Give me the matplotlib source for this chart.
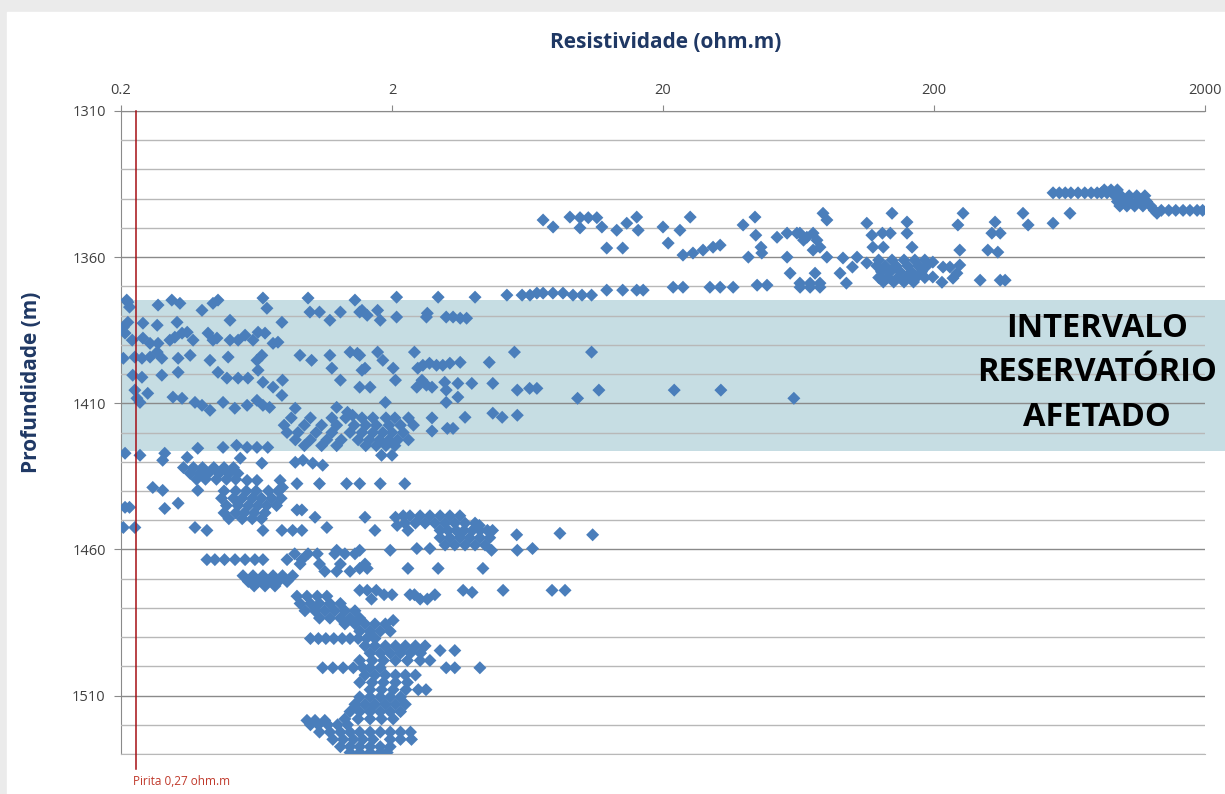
import matplotlib
matplotlib.use("Agg")
import matplotlib.pyplot as plt
from matplotlib.patches import Rectangle
from matplotlib.transforms import blended_transform_factory
from matplotlib.ticker import NullLocator

plt.rcParams['font.family'] = ['Open Sans', 'DejaVu Sans']

# resistivity readings (ohm.m) grouped by depth (m)
shallow_rows = [
    (1337.0, [850, 900, 950]),
    (1338.0, [550, 580, 610, 640, 680, 720, 760, 800, 830, 870]),
    (1339.0, [930, 980, 1050, 1120, 1200]),
    (1341.0, [950, 1000, 1060, 1140, 1220]),
    (1342.5, [970, 1030, 1100, 1180, 1260]),
    (1344.0, [1300, 1380, 1470, 1560, 1660, 1760, 1870, 1960]),
    (1345.0, [77.9, 140, 256, 426, 635, 1330]),
    (1346.3, [9.07, 16.0, 25.2, 43.7]),
    (1346.5, [9.88, 10.6, 11.4]),
    (1347.3, [7.22, 80.5]),
    (1348.0, [159, 336]),
    (1348.4, [14.7, 113, 550]),
    (1349.0, [39.5, 245, 445]),
    (1349.7, [7.86, 11.9, 20]),
    (1350.0, [9.88]),
    (1350.8, [13.5, 16.2, 23.1]),
    (1351.8, [57.4, 62.4, 64, 71.6, 129, 138, 159, 327, 351]),
    (1352.5, [44, 118]),
    (1353.2, [52.7, 67.9]),
    (1354.2, [66, 74]),
    (1355.2, [20.9]),
    (1355.9, [32.5]),
    (1356.6, [30.6, 46, 75.9, 119, 130, 166]),
    (1356.9, [12.4, 14.2]),
    (1357.6, [28.1, 71.6, 249, 316]),
    (1358.3, [344]),
    (1358.6, [25.8, 46.3]),
    (1359.3, [23.7]),
    (1360.0, [41.3, 57.4, 80.5, 104]),
    (1360.3, [92.3]),
    (1361.0, [125, 140, 155, 170, 185]),
    (1361.7, [198]),
    (1362.0, [113]),
    (1362.7, [249]),
    (1363.0, [123, 132, 145, 160, 175, 188]),
    (1363.4, [100, 216, 229]),
    (1365.0, [128, 138, 150, 165, 180]),
    (1365.5, [58.9, 72.8, 90, 243]),
    (1366.8, [198]),
    (1367.0, [125, 135, 147, 158, 172, 185]),
    (1367.2, [235]),
    (1367.9, [296, 351, 366]),
    (1368.5, [130, 142, 155, 168]),
    (1368.6, [214]),
    (1368.9, [64, 69.8, 75.9, 95]),
    (1369.6, [44.5, 48.4]),
    (1370.3, [21.8, 23.7, 29.8, 32.5, 36.3, 64.1, 69.8, 75.9]),
    (1371.3, [12.4, 14.2, 16.0, 16.9]),
    (1372.3, [6.85, 7.22, 7.85, 8.55]),
    (1373.0, [5.31, 6.04, 6.46, 9.31, 10.05, 10.9]),
    (1373.7, [2.08, 2.96, 4.05]),
]

reservoir_rows = [
    (1374.0, [0.668, 0.98]),
    (1374.7, [0.21, 0.308, 0.456, 1.46]),
    (1375.4, [0.212]),
    (1375.8, [0.33, 0.437]),
    (1376.4, [0.274]),
    (1377.1, [0.215]),
    (1377.5, [0.691]),
    (1378.2, [0.398, 1.55, 1.77]),
    (1378.8, [0.996, 1.08, 1.29, 1.52]),
    (1379.2, [2.70]),
    (1379.9, [1.62]),
    (1380.5, [2.08, 2.68, 3.17, 3.36]),
    (1380.9, [3.57, 3.77]),
    (1381.6, [0.505, 1.18, 1.81]),
    (1382.3, [0.212, 0.322, 0.785]),
    (1382.6, [0.241]),
    (1383.3, [0.272]),
    (1384.0, [0.204]),
    (1385.7, [0.351, 0.641]),
    (1386.0, [0.207, 0.336, 0.419, 0.68]),
    (1386.7, [0.574]),
    (1387.4, [0.316]),
    (1387.7, [0.241, 0.452]),
    (1388.4, [0.22, 0.303, 0.369, 0.437, 0.505, 0.541, 0.614]),
    (1389.1, [0.759]),
    (1389.5, [0.256, 0.274, 0.728]),
    (1392.5, [0.272, 1.40, 1.77, 2.42, 5.66, 10.9]),
    (1392.9, [1.49]),
    (1393.6, [0.36, 0.662, 0.915, 1.18, 1.52]),
    (1394.2, [0.225, 0.256, 0.497]),
    (1394.6, [0.204, 0.239, 0.283, 0.325]),
    (1395.3, [0.426, 0.635, 1.01, 1.85]),
    (1396.0, [3.57, 4.57]),
    (1396.3, [2.75, 3.27]),
    (1397.0, [2.60, 2.92, 3.08]),
    (1398.0, [1.2, 1.59, 2.02, 2.49]),
    (1398.7, [0.641, 1.55]),
    (1399.4, [0.325, 0.456]),
    (1400.4, [0.221, 0.283]),
    (1401.1, [0.239]),
    (1401.4, [0.492, 0.541, 0.588]),
    (1402.1, [0.789, 1.29, 2.06, 2.58]),
    (1402.8, [0.668, 3.13]),
    (1403.2, [3.50, 3.94, 4.71]),
    (1403.8, [2.68]),
    (1404.5, [0.728, 1.52, 1.66, 2.47, 2.81]),
    (1404.9, [6.44, 6.85]),
    (1405.5, [0.225, 3.17, 5.80, 11.6, 22.0, 32.7]),
    (1406.6, [0.251]),
    (1407.3, [0.785]),
    (1407.9, [0.311, 3.50]),
    (1408.3, [0.229, 0.336, 9.68, 60.8]),
    (1409.0, [0.635]),
    (1409.7, [0.235, 0.375, 0.476, 1.89, 3.17]),
    (1410.7, [0.398, 0.584, 0.668]),
    (1411.4, [0.707, 1.25]),
    (1411.7, [0.526, 0.879]),
    (1412.4, [0.426]),
    (1413.1, [1.37]),
    (1413.4, [4.71]),
    (1414.1, [1.43, 5.8]),
    (1414.8, [3.72, 5.1]),
    (1415.0, [0.85, 1.0, 1.2, 1.35, 1.55, 1.7, 1.9, 2.05, 2.3, 2.81]),
    (1417.5, [0.8, 0.95, 1.1, 1.25, 1.45, 1.6, 1.75, 1.95, 2.15, 2.4]),
    (1418.6, [3.2, 3.36]),
    (1419.5, [2.81]),
    (1420.0, [0.82, 0.9, 1.05, 1.2, 1.4, 1.55, 1.7, 1.85, 2.0, 2.2]),
    (1422.5, [0.88, 1.0, 1.15, 1.3, 1.5, 1.65, 1.8, 1.95, 2.1, 2.3]),
    (1424.4, [0.534]),
    (1424.5, [0.95, 1.1, 1.25, 1.6, 1.75, 1.9, 2.05]),
    (1425.1, [0.476, 0.584, 0.635, 0.696]),
    (1425.4, [0.384]),
]

deep_rows = [
    (1427.1, [0.207, 0.29]),
    (1427.8, [0.235, 1.83, 2.0]),
    (1428.5, [0.351]),
    (1428.8, [0.551]),
    (1429.5, [0.285, 0.938]),
    (1430.2, [0.879]),
    (1430.5, [0.662, 1.02]),
    (1431.2, [1.11]),
    (1432.0, [0.34, 0.37, 0.40, 0.44, 0.48, 0.52]),
    (1434.0, [0.36, 0.39, 0.42, 0.46, 0.50, 0.54]),
    (1436.0, [0.38, 0.41, 0.45, 0.49, 0.53]),
    (1436.4, [0.584, 0.635, 0.773]),
    (1437.5, [0.892, 1.08, 1.36, 1.52, 1.81, 2.23]),
    (1438.8, [0.262, 0.789]),
    (1439.8, [0.285, 0.384]),
    (1440.0, [0.48, 0.53, 0.58, 0.63, 0.70, 0.76]),
    (1442.5, [0.47, 0.52, 0.56, 0.61, 0.66, 0.72, 0.78]),
    (1444.2, [0.325]),
    (1445.0, [0.49, 0.54, 0.59, 0.64, 0.69, 0.75]),
    (1445.6, [0.207, 0.215]),
    (1446.0, [0.290]),
    (1446.5, [0.892, 0.93]),
    (1447.5, [0.48, 0.53, 0.57, 0.62, 0.68]),
    (1448.5, [2.20, 2.33, 2.54, 2.76, 3.01, 3.27, 3.56]),
    (1449.0, [1.04, 1.59, 2.06]),
    (1449.5, [0.50, 0.56, 0.61, 0.66]),
    (1451.0, [2.23, 2.44, 2.65, 2.88, 3.14, 3.41, 3.72, 4.05]),
    (1451.8, [2.09, 4.2]),
    (1452.5, [0.204, 0.225, 0.375, 1.15]),
    (1453.5, [0.415, 0.668, 0.785, 0.86, 0.93, 1.73, 2.29, 3.01, 3.22, 3.45, 3.69, 3.96, 4.22, 4.5, 4.7]),
    (1454.5, [8.33]),
    (1455.0, [5.77, 11.0]),
    (1456.0, [3.01, 3.27, 3.56, 3.87, 4.22, 4.59]),
    (1458.5, [3.14, 3.41, 3.72, 4.05, 4.41]),
    (1459.7, [2.47, 2.76, 6.6]),
    (1460.3, [1.25, 1.52, 1.97, 4.66, 5.8]),
    (1461.5, [0.875, 0.98, 1.06, 1.23, 1.34, 1.46]),
    (1463.5, [0.415, 0.444, 0.482, 0.527, 0.574, 0.624, 0.668, 0.82, 0.93]),
    (1465.0, [0.916, 1.08, 1.29, 1.59]),
    (1466.5, [1.52, 1.62, 2.29, 2.96, 4.33]),
    (1467.5, [1.13, 1.25, 1.4]),
    (1469.0, [0.564, 0.614, 0.668, 0.728, 0.789, 0.86]),
    (1471.0, [0.59, 0.64, 0.70, 0.76, 0.82]),
    (1472.5, [0.62, 0.68, 0.74]),
    (1474.0, [1.52, 1.62, 1.75, 3.66, 5.14, 7.79, 8.70]),
    (1474.7, [3.95]),
    (1475.5, [1.87, 2.0, 2.33, 2.42, 2.88]),
    (1476.0, [0.892, 0.971, 1.06, 1.15]),
    (1477.0, [1.68, 2.54, 2.70]),
    (1478.5, [0.916, 1.0, 1.08, 1.18, 1.29]),
    (1481.0, [0.955, 1.04, 1.13, 1.23, 1.34, 1.46]),
    (1483.5, [1.08, 1.18, 1.29, 1.40, 1.52]),
    (1484.3, [2.02]),
    (1485.5, [1.34, 1.46, 1.59, 1.73, 1.89]),
    (1488.0, [1.52, 1.66, 1.81, 1.97]),
    (1490.5, [1.0, 1.07, 1.14, 1.22, 1.31, 1.40, 1.50, 1.61, 1.73]),
    (1493.0, [1.59, 1.73, 1.89, 2.06, 2.24, 2.44, 2.65]),
    (1494.6, [3.01, 3.41]),
    (1495.5, [1.66, 1.81, 1.97, 2.15, 2.34, 2.55]),
    (1498.0, [1.52, 1.69, 1.86, 2.06, 2.28, 2.54, 2.76]),
    (1500.5, [1.11, 1.21, 1.32, 1.44, 1.56, 1.66, 1.81, 3.17, 3.41, 4.22]),
    (1503.0, [1.59, 1.73, 1.89, 2.06, 2.24, 2.44]),
    (1505.5, [1.52, 1.69, 1.86, 2.06, 2.28]),
    (1508.0, [1.66, 1.83, 2.02, 2.25, 2.5, 2.67]),
    (1510.5, [1.52, 1.66, 1.81, 1.97, 2.15]),
    (1513.0, [1.46, 1.59, 1.73, 1.89, 2.06, 2.24]),
    (1515.5, [1.40, 1.52, 1.66, 1.81, 1.97, 2.15]),
    (1518.0, [1.34, 1.50, 1.66, 1.83, 2.02]),
    (1518.5, [0.971, 1.04, 1.13]),
    (1520.0, [1.0, 1.07, 1.16, 1.26, 1.37]),
    (1522.5, [1.08, 1.18, 1.29, 1.40, 1.52, 1.66, 1.81, 1.97, 2.15, 2.34]),
    (1525.0, [1.21, 1.32, 1.44, 1.56, 1.70, 1.97, 2.15, 2.36]),
    (1527.5, [1.29, 1.40, 1.52, 1.66, 1.81, 1.97]),
    (1529.5, [1.40, 1.52, 1.66, 1.81, 1.92]),
]

band_top, band_bottom = 1374.7, 1426.4
pyrite_x = 0.227          # where the red line sits in the picture
x_ticks = [0.2, 2, 20, 200, 2000]
x_labels = ['0.2', '2', '20', '200', '2000']
y_major = [1310, 1360, 1410, 1460, 1510]

depth, res = [], []
for rows in (shallow_rows, reservoir_rows, deep_rows):
    for d, vals in rows:
        depth += [d] * len(vals)
        res += vals

W, H = 1225, 794
fig = plt.figure(figsize=(W / 100, H / 100), dpi=100)
# screenshot frame
fig.patches.append(Rectangle((0, 0), 1, 1, transform=fig.transFigure,
                             color='#ebebeb', zorder=-10))
fig.patches.append(Rectangle((7 / W, 0), 1, 1 - 12 / H, transform=fig.transFigure,
                             color='white', zorder=-9))

ax = fig.add_axes([121 / W, 1 - 754 / H, (1205 - 121) / W, (754 - 111) / H])
ax.set_facecolor('none')
ax.set_xscale('log')
ax.set_xlim(0.2, 2000)
ax.set_ylim(1530, 1310)

# affected reservoir band, runs past the plot to the right edge
tr = blended_transform_factory(fig.transFigure, ax.transData)
ax.add_patch(Rectangle((121 / W, band_top), 1 - 121 / W, band_bottom - band_top,
                       transform=tr, facecolor='#c6dde3', edgecolor='none',
                       zorder=0.5, clip_on=False))

ax.set_yticks(y_major)
ax.set_yticks(range(1310, 1531, 10), minor=True)
ax.grid(axis='y', which='major', color='#8a8a8a', lw=1.0, zorder=1)
ax.grid(axis='y', which='minor', color='#b8b8b8', lw=1.0, zorder=1)
ax.set_axisbelow(False)

ax.xaxis.tick_top()
ax.set_xticks(x_ticks)
ax.set_xticklabels(x_labels)
ax.xaxis.set_minor_locator(NullLocator())
ax.tick_params(axis='x', which='major', length=4, color='#8a8a8a',
               labelsize=10.5, labelcolor='#404040', pad=5)
ax.tick_params(axis='y', which='major', length=5, color='#8a8a8a',
               labelsize=10.5, labelcolor='#404040', pad=6)
ax.tick_params(axis='y', which='minor', length=0)

ax.spines['right'].set_visible(False)
ax.spines['left'].set_color('#8a8a8a')
ax.spines['top'].set_color('#8a8a8a')
ax.spines['bottom'].set_color('#b8b8b8')

ax.scatter(res, depth, marker='D', s=44, color='#4a7ebb', edgecolors='none',
           zorder=3)

ax.plot([pyrite_x, pyrite_x], [1310, 1535], color='#a50f15', lw=1.1,
        clip_on=False, zorder=4)
ax.text(0.221, 1539.5, 'Pirita 0,27 ohm.m', color='#c0392b', fontsize=8.5,
        ha='left', va='center', clip_on=False)

fig.text(666 / W, 1 - 42 / H, 'Resistividade (ohm.m)', ha='center', va='center',
         fontsize=15, fontweight='bold', color='#1f3864')
fig.text(32 / W, 1 - 382 / H, 'Profundidade (m)', ha='center', va='center',
         rotation=90, fontsize=15, fontweight='bold', color='#1f3864')
fig.text(1097 / W, 1 - 373 / H, 'INTERVALO\nRESERVATÓRIO\nAFETADO', ha='center',
         va='center', fontsize=23.5, fontweight='bold', color='black',
         linespacing=1.47)

fig.savefig('out.png', dpi=100)
